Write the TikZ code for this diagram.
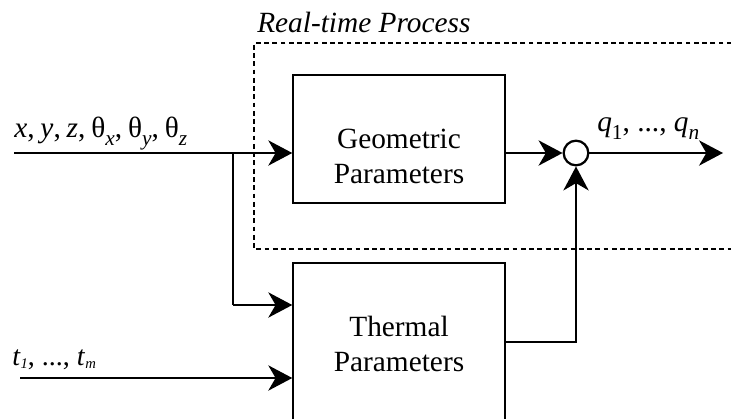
\documentclass[tikz,border=0pt]{standalone}
\usepackage{fontspec}
\setmainfont{Liberation Serif}
\usetikzlibrary{arrows.meta,calc}

\tikzset{
  wire/.style={line width=1.1pt, -{Stealth[length=18pt,width=19pt,inset=5.5pt]}},
  plainwire/.style={line width=1.1pt},
  block/.style={draw, line width=1.1pt, minimum width=159pt, inner sep=0pt},
  txt/.style={font=\fontsize{22}{26.3}\selectfont, align=center, inner sep=0pt},
  lbl/.style={font=\fontsize{22}{26}\selectfont, inner sep=0pt, anchor=base west},
  region/.style={line width=0.8pt, dash pattern=on 3.6pt off 2.6pt},
}
% lowered subscripts in text mode
\newcommand{\sbx}[1]{\raisebox{-0.28em}{\fontsize{16}{16}\selectfont #1}}
\newcommand{\sbt}[1]{\raisebox{-0.12em}{\fontsize{11}{11}\selectfont #1}}
\newcommand{\cm}{,\hspace{0.2em}}

\begin{document}
\begin{tikzpicture}[x=0.75pt, y=-0.75pt]
  \useasboundingbox (0,0) rectangle (731,418);
  \clip (0,0) rectangle (731,418);

  % real-time region
  \draw[region] (740,43) -| (254,249) -- (740,249);
  \node[lbl, font=\fontsize{22}{26}\selectfont\itshape] (rt) at (257,32) {Real-time Process};

  % blocks
  \node[block, minimum height=96pt] (geo) at (399,139) {};
  \node[txt] (geotxt) at (399,156) {Geometric\\Parameters};
  \node[block, minimum height=135pt] (therm) at (399,353) {};
  \node[txt] (thermtxt) at (399,344) {Thermal\\Parameters};

  % summing junction
  \node[circle, draw, line width=1.7pt, minimum size=18.5pt, inner sep=0pt] (sum) at (576,153) {};

  % inputs
  \coordinate (xin) at (14,153);
  \coordinate (br) at (233,153);
  \coordinate (brd) at (233,305);
  \coordinate (tin) at (20,378);
  \node[lbl] (xlbl) at (14,137) {\textit{x}\cm\textit{y}\cm\textit{z}\cm θ\sbx{\textit{x}}\cm θ\sbx{\textit{y}}\cm θ\sbx{\textit{z}}};
  \node[lbl, font=\fontsize{21}{24}\selectfont] (tlbl) at (12,365) {\textit{t}\sbt{\textit{1}}, ..., \textit{t}\sbt{\textit{m}}};

  \draw[wire] (xin) -- (xin -| geo.west);
  \draw[plainwire] (br) -- (brd);
  \draw[wire] (brd) -- (brd -| therm.west);
  \draw[wire] (tin) -- (tin -| therm.west);

  % to the junction and output
  \coordinate (tout) at (505,342);
  \coordinate (qout) at (723,153);
  \draw[wire] (xin -| geo.east) -- (sum.west);
  \draw[wire] (tout) -| (sum.south);
  \draw[wire] (sum.east) -- (qout);
  \node[lbl] (qlbl) at (597,131) {\textit{q}\sbx{1}, ..., \textit{q}\sbx{\textit{n}}};
\end{tikzpicture}
\end{document}
